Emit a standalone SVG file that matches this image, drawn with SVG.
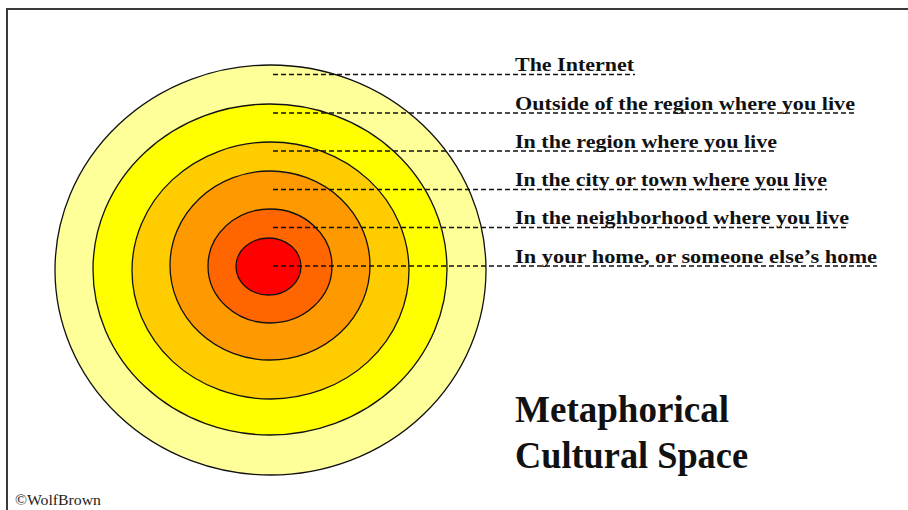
<svg xmlns="http://www.w3.org/2000/svg" width="908" height="510" viewBox="0 0 908 510">
<style>
.ring{stroke:#111;stroke-width:1.3}
.lbl{font-family:"Liberation Serif","Times New Roman",serif;font-weight:bold;font-size:19.5px;fill:#111}
.title{font-family:"Liberation Serif","Times New Roman",serif;font-weight:bold;font-size:37px;fill:#111}
.lead{stroke:#111;stroke-width:1.3;stroke-dasharray:5 3;fill:none}
.frame{stroke:#3a3a3a;stroke-width:2;fill:none}
</style>
<rect x="0" y="0" width="908" height="510" fill="#fff"/>
<path class="frame" d="M7 510 V9 H908"/>
<g id="ring-internet"><ellipse class="ring" cx="270.5" cy="270" rx="215.5" ry="205" fill="#FFFF99"/></g>
<g id="ring-outside-region"><ellipse class="ring" cx="270" cy="269.5" rx="177" ry="165.5" fill="#FFFF00"/></g>
<g id="ring-region"><ellipse class="ring" cx="270.5" cy="270.5" rx="138.5" ry="128.5" fill="#FFCC00"/></g>
<g id="ring-city"><ellipse class="ring" cx="270" cy="265.5" rx="100" ry="94.5" fill="#FF9900"/></g>
<g id="ring-neighborhood"><ellipse class="ring" cx="270" cy="266" rx="62" ry="57" fill="#FF6600"/></g>
<g id="ring-home"><ellipse class="ring" cx="268.5" cy="266.5" rx="32.5" ry="28.5" fill="#FF0000"/></g>
<g id="connectors">
<line class="lead" x1="273" y1="74.5" x2="635" y2="74.5"/>
<line class="lead" x1="273" y1="113" x2="855" y2="113"/>
<line class="lead" x1="273" y1="151" x2="777" y2="151"/>
<line class="lead" x1="273" y1="189.5" x2="827" y2="189.5"/>
<line class="lead" x1="273" y1="227.5" x2="849" y2="227.5"/>
<line class="lead" x1="273" y1="266" x2="877" y2="266"/>
</g>
<g id="label-internet"><text class="lbl" x="515" y="71" textLength="119" lengthAdjust="spacingAndGlyphs">The Internet</text></g>
<g id="label-outside-region"><text class="lbl" x="515" y="109.5" textLength="340" lengthAdjust="spacingAndGlyphs">Outside of the region where you live</text></g>
<g id="label-region"><text class="lbl" x="515" y="147.5" textLength="262" lengthAdjust="spacingAndGlyphs">In the region where you live</text></g>
<g id="label-city"><text class="lbl" x="515" y="186" textLength="312" lengthAdjust="spacingAndGlyphs">In the city or town where you live</text></g>
<g id="label-neighborhood"><text class="lbl" x="515" y="224" textLength="334" lengthAdjust="spacingAndGlyphs">In the neighborhood where you live</text></g>
<g id="label-home"><text class="lbl" x="515" y="262.5" textLength="362" lengthAdjust="spacingAndGlyphs">In your home, or someone else’s home</text></g>
<g id="title">
<text class="title" x="515" y="422" textLength="214" lengthAdjust="spacingAndGlyphs">Metaphorical</text>
<text class="title" x="515" y="468" textLength="233" lengthAdjust="spacingAndGlyphs">Cultural Space</text>
</g>
<text x="15" y="504.5" font-family="'Liberation Serif','Times New Roman',serif" font-size="14" fill="#222" textLength="86" lengthAdjust="spacingAndGlyphs">©WolfBrown</text>
</svg>
